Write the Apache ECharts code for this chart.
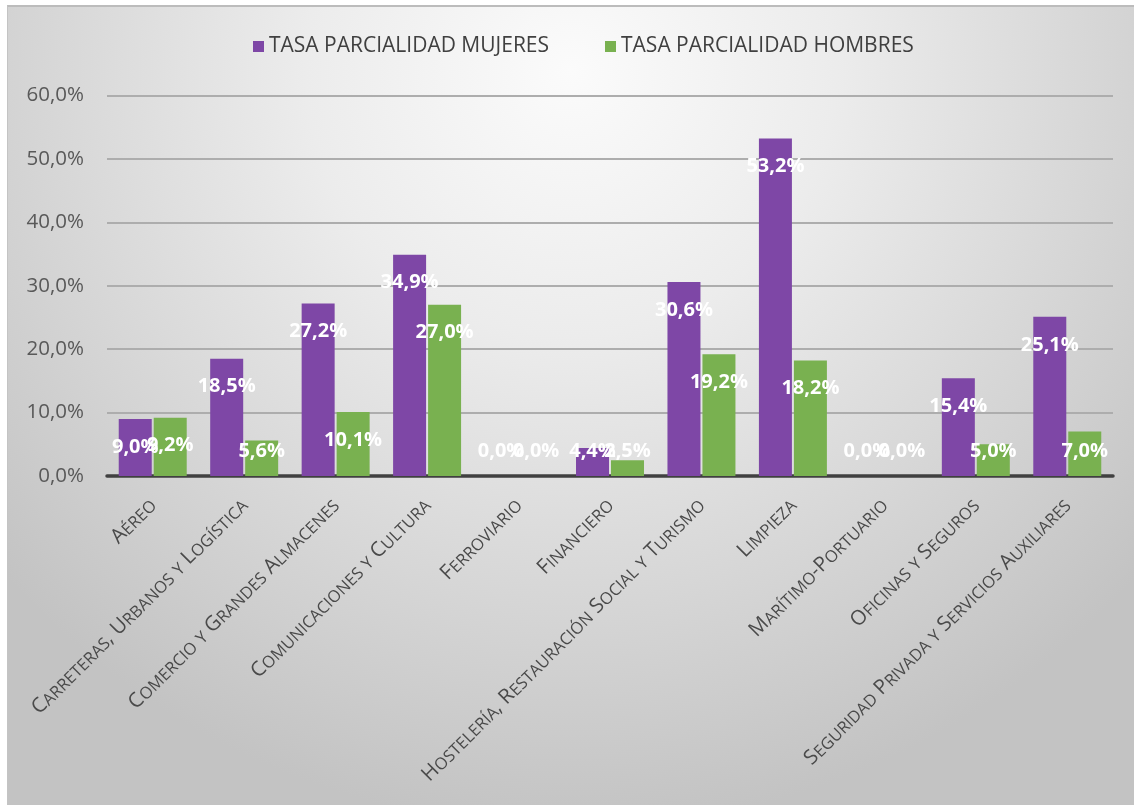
<!DOCTYPE html>
<html>
<head>
<meta charset="utf-8">
<title>Tasa de parcialidad por sector</title>
<script src="https://cdn.jsdelivr.net/npm/echarts@6/dist/echarts.min.js"></script>
<style>
  html, body { margin: 0; padding: 0; background: #ffffff; }
  #chart {
    position: absolute; left: 7px; top: 5px;
    width: 1126px; height: 798px;
    border-left: 1px solid #c4c4c4;
    border-top: 2px solid #bcbcbc;
  }
</style>
</head>
<body>
<div id="chart"></div>
<script>
// Sectores (mixed case; rendered in small caps on the axis)
const sectores = [
  'Aéreo',
  'Carreteras, Urbanos y Logística',
  'Comercio y Grandes Almacenes',
  'Comunicaciones y Cultura',
  'Ferroviario',
  'Financiero',
  'Hostelería, Restauración Social y Turismo',
  'Limpieza',
  'Marítimo-Portuario',
  'Oficinas y Seguros',
  'Seguridad Privada y Servicios Auxiliares'
];

const serieMujeres = 'TASA PARCIALIDAD MUJERES';
const serieHombres = 'TASA PARCIALIDAD HOMBRES';

// Tasa de parcialidad (%)
const mujeres = [9.0, 18.5, 27.2, 34.9, 0.0, 4.4, 30.6, 53.2, 0.0, 15.4, 25.1];
const hombres = [9.2, 5.6, 10.1, 27.0, 0.0, 2.5, 19.2, 18.2, 0.0, 5.0, 7.0];

// Value axis range
const yMin = 0;
const yMax = 60;
const yStep = 10;

const FONT = '"Open Sans", "DejaVu Sans", sans-serif';

function pct(v) {
  return v.toFixed(1).replace('.', ',') + '%';
}

// Turn "Aéreo" into rich-text runs imitating small caps
function smallCaps(text) {
  let out = '';
  let cur = null;
  let buf = '';
  for (const ch of text) {
    const isLetter = ch.toLowerCase() !== ch.toUpperCase();
    const big = !isLetter || ch !== ch.toLowerCase();
    const style = big ? 'big' : 'sm';
    if (style !== cur) {
      if (buf) out += '{' + cur + '|' + buf + '}';
      cur = style;
      buf = '';
    }
    buf += ch.toUpperCase();
  }
  if (buf) out += '{' + cur + '|' + buf + '}';
  return out;
}

// Tall bars carry their label just under the top; short ones near the base
function withLabels(values) {
  return values.map(v => ({
    value: v,
    label: v >= 8.4
      ? { position: 'insideTop', distance: 18 }
      : { position: 'insideBottom', distance: 15 }
  }));
}

const chart = echarts.init(document.getElementById('chart'), null, { renderer: 'canvas' });

const labelStyle = {
  show: true,
  color: '#ffffff',
  fontFamily: FONT,
  fontWeight: 'bold',
  fontSize: 20,
  formatter: p => pct(p.value)
};

chart.setOption({
  animation: false,
  backgroundColor: {
    type: 'radial', x: 0.5, y: 0.08, r: 0.95,
    colorStops: [
      { offset: 0, color: '#fbfbfb' },
      { offset: 0.35, color: '#ececec' },
      { offset: 0.7, color: '#d6d6d6' },
      { offset: 1, color: '#c3c3c3' }
    ]
  },
  textStyle: { fontFamily: FONT },
  legend: {
    left: 240,
    top: 24,
    itemWidth: 11,
    itemHeight: 11,
    itemGap: 56,
    icon: 'rect',
    textStyle: { color: '#404040', fontSize: 21, fontFamily: FONT, padding: [0, 0, 0, 0] },
    data: [serieMujeres, serieHombres]
  },
  grid: {
    left: 99,
    top: 88.5,
    width: 1006,
    height: 380.5,
    containLabel: false
  },
  xAxis: {
    type: 'category',
    data: sectores,
    axisTick: { show: false },
    axisLine: { show: true, lineStyle: { color: '#404040', width: 3.5 } },
    axisLabel: {
      interval: 0,
      rotate: 45,
      margin: 26,
      color: '#4a4a4a',
      formatter: v => smallCaps(v),
      rich: {
        big: { fontSize: 20.5, fontFamily: FONT, color: '#4a4a4a', verticalAlign: 'bottom' },
        sm: { fontSize: 16.5, fontFamily: FONT, color: '#4a4a4a', verticalAlign: 'bottom' }
      }
    }
  },
  yAxis: {
    type: 'value',
    min: yMin,
    max: yMax,
    interval: yStep,
    axisLine: { show: false },
    axisTick: { show: false },
    axisLabel: {
      margin: 23,
      color: '#595959',
      fontSize: 20.5,
      fontFamily: FONT,
      formatter: v => pct(v)
    },
    splitLine: { lineStyle: { color: '#adadad', width: 2 } }
  },
  series: [
    {
      name: serieMujeres,
      type: 'bar',
      barWidth: 33,
      barGap: '6%',
      itemStyle: { color: '#7e47a6' },
      label: labelStyle,
      data: withLabels(mujeres)
    },
    {
      name: serieHombres,
      type: 'bar',
      barWidth: 33,
      barGap: '6%',
      itemStyle: { color: '#79b150' },
      label: labelStyle,
      data: withLabels(hombres)
    }
  ]
});
</script>
</body>
</html>
